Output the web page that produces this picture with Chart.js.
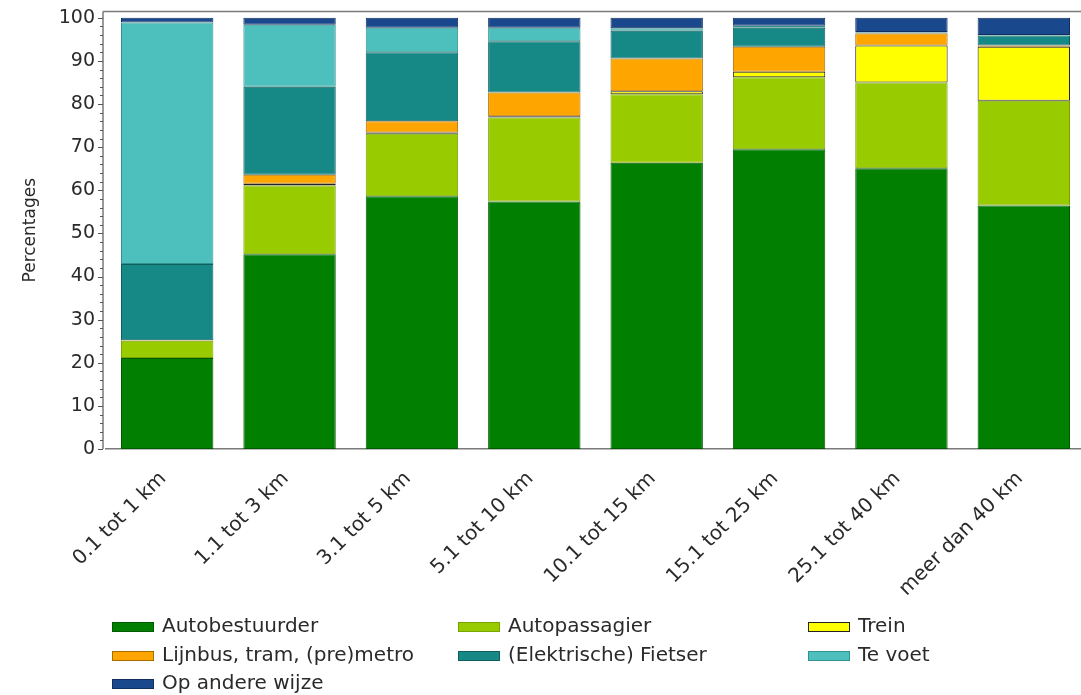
<!DOCTYPE html>
<html>
<head>
<meta charset="utf-8">
<script src="https://cdn.jsdelivr.net/npm/chart.js@4.4.1/dist/chart.umd.min.js"></script>
<style>
  html, body { margin: 0; padding: 0; background: #fff; overflow: hidden; }
  #wrap { width: 1081px; height: 695px; overflow: hidden; }
  canvas { display: block; }
</style>
</head>
<body>
<div id="wrap"><canvas id="chart" width="1090" height="695"></canvas></div>
<script>
const categories = ['0.1 tot 1 km', '1.1 tot 3 km', '3.1 tot 5 km', '5.1 tot 10 km',
  '10.1 tot 15 km', '15.1 tot 25 km', '25.1 tot 40 km', 'meer dan 40 km'];

const autobestuurder = [21.1, 45.2, 58.6, 57.4, 66.4, 69.5, 65.1, 56.5];
const autopassagier = [4.0, 15.9, 14.5, 19.5, 15.9, 16.7, 19.9, 24.3];
const trein = [0, 0.4, 0.3, 0.3, 0.7, 1.3, 8.6, 12.5];
const lijnbus = [0.1, 2.1, 2.6, 5.5, 7.6, 5.8, 2.8, 0.3];
const fietser = [17.7, 20.4, 16.0, 11.9, 6.4, 4.4, 0.2, 2.3];
const teVoet = [56.0, 14.4, 5.7, 3.1, 0.6, 0.5, 0.1, 0.1];
const andereWijze = [1.1, 1.6, 2.3, 2.3, 2.4, 1.8, 3.3, 4.0];

const yTicks = [0, 10, 20, 30, 40, 50, 60, 70, 80, 90, 100];

const FONT = '"DejaVu Sans", Verdana, sans-serif';

// y-as met kleine streepjes, bovenrand en legenda in drie kolommen
const axisExtras = {
  id: 'axisExtras',
  afterDraw(chart) {
    const ctx = chart.ctx;
    const area = chart.chartArea;
    const y = chart.scales.y;
    const axisX = area.left - 3;
    ctx.save();
    ctx.strokeStyle = '#7a7a7a';
    ctx.lineWidth = 1.5;
    ctx.beginPath();
    ctx.moveTo(axisX, area.top);
    ctx.lineTo(axisX, area.bottom);
    ctx.moveTo(axisX, area.top);
    ctx.lineTo(1081, area.top);
    ctx.stroke();
    ctx.lineWidth = 1;
    ctx.strokeStyle = '#555';
    ctx.beginPath();
    for (let v = 0; v <= 100; v += 2) {
      const py = Math.round(y.getPixelForValue(v)) + 0.5;
      const len = v % 10 === 0 ? 5 : 3;
      ctx.moveTo(axisX - len, py);
      ctx.lineTo(axisX, py);
    }
    ctx.stroke();

    const cols = [112, 458, 808];
    const rows = [627, 656, 684];
    ctx.font = '20px ' + FONT;
    ctx.textBaseline = 'middle';
    chart.data.datasets.forEach((ds, i) => {
      const x = cols[i % 3];
      const ry = rows[Math.floor(i / 3)];
      ctx.fillStyle = ds.borderColor;
      ctx.fillRect(x, ry - 5, 42, 10);
      ctx.fillStyle = ds.backgroundColor;
      ctx.fillRect(x + 1, ry - 4, 40, 8);
      ctx.fillStyle = '#2a2a2a';
      ctx.fillText(ds.label, x + 50, ry);
    });
    ctx.restore();
  }
};

function series(label, data, color, border) {
  return {
    label: label,
    data: data,
    backgroundColor: color,
    borderColor: border,
    borderWidth: 1,
    borderSkipped: false
  };
}

new Chart(document.getElementById('chart'), {
  type: 'bar',
  data: {
    labels: categories,
    datasets: [
      series('Autobestuurder', autobestuurder, '#007f00', '#005a00'),
      series('Autopassagier', autopassagier, '#99cc00', '#7aa300'),
      series('Trein', trein, '#ffff00', '#222222'),
      series('Lijnbus, tram, (pre)metro', lijnbus, '#ffa500', '#a86c00'),
      series('(Elektrische) Fietser', fietser, '#168987', '#0e5f5d'),
      series('Te voet', teVoet, '#4dbfbc', '#33928f'),
      series('Op andere wijze', andereWijze, '#1a488c', '#102f5e')
    ]
  },
  options: {
    responsive: false,
    animation: false,
    events: [],
    layout: { padding: { left: 0, right: 5, top: 0, bottom: 0 } },
    datasets: { bar: { categoryPercentage: 1, barPercentage: 0.755 } },
    plugins: { legend: { display: false }, tooltip: { enabled: false } },
    scales: {
      x: {
        stacked: true,
        grid: { display: false, drawTicks: false },
        border: { display: true, color: '#7a7a7a', width: 1.5 },
        ticks: {
          autoSkip: false, minRotation: 45, maxRotation: 45, padding: 18, labelOffset: -4,
          color: '#2a2a2a', font: { family: FONT, size: 20 }
        },
        afterFit(scale) { scale.height = 246; }
      },
      y: {
        stacked: true,
        min: 0,
        max: 101.5,
        grid: { display: false, drawTicks: true, tickLength: 11 },
        border: { display: false },
        afterBuildTicks(scale) { scale.ticks = yTicks.map(v => ({ value: v })); },
        ticks: { padding: 0, color: '#2a2a2a', font: { family: FONT, size: 19 } },
        title: {
          display: true, text: 'Percentages', color: '#2a2a2a',
          font: { family: FONT, size: 17 }, padding: { top: 20, bottom: 0 }
        },
        afterFit(scale) { scale.width = 106; }
      }
    }
  },
  plugins: [axisExtras]
});
</script>
</body>
</html>
